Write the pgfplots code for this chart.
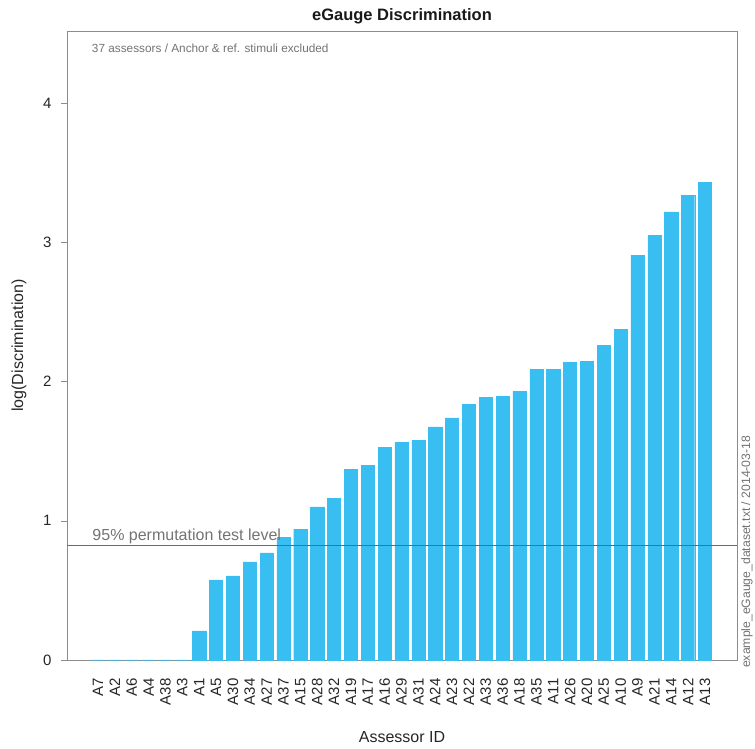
\documentclass[border=0pt]{standalone}
\usepackage{pgfplots}
\pgfplotsset{compat=1.18}
\usepackage{fontspec}
\setmainfont{Liberation Sans}
\definecolor{barc}{RGB}{56,190,240}
\definecolor{framec}{RGB}{140,140,140}
\definecolor{txtgray}{RGB}{115,115,115}
\definecolor{linec}{RGB}{105,105,105}
\begin{document}
\begin{tikzpicture}
\useasboundingbox (-67pt,-89pt) rectangle (688pt,660pt);
\begin{axis}[
  name=ax,
  scale only axis, width=670pt, height=629pt,
  xmin=-1.84, xmax=37.9, ymin=0, ymax=4.52,
  clip=false,
  axis line style={framec, line width=0.6pt},
  xtick={0,...,36},
  xticklabels={A7,A2,A6,A4,A38,A3,A1,A5,A30,A34,A27,A37,A15,A28,A32,A19,A17,A16,A29,A31,A24,A23,A22,A33,A36,A18,A35,A11,A26,A20,A25,A10,A9,A21,A14,A12,A13},
  xtick style={draw=none},
  xticklabel style={rotate=90, anchor=east, font=\fontsize{15}{15}\selectfont, text=black!85},
  xticklabel shift=9pt,
  ytick={0,1,2,3,4},
  ytick pos=left,
  ytick style={framec, line width=0.6pt},
  tick align=outside, major tick length=6pt,
  yticklabel style={font=\fontsize{15}{15}\selectfont, text=black!85, xshift=-6pt},
  /pgf/number format/assume math mode=true,
  xlabel={Assessor ID}, ylabel={log(Discrimination)},
  xlabel style={at={(axis description cs:0.5,-0.1224)}, anchor=center, font=\fontsize{16}{16}\selectfont, text=black!85},
  ylabel style={at={(axis description cs:-0.0716,0.5)}, anchor=center, font=\fontsize{16}{16}\selectfont, text=black!85},
]
\addplot[ybar, bar width=13.2pt, fill=barc, draw=barc, line width=0.4pt] coordinates {
(0,0) (1,0) (2,0) (3,0) (4,0) (5,0)
(6,0.21) (7,0.575) (8,0.605) (9,0.705) (10,0.77) (11,0.88) (12,0.94)
(13,1.10) (14,1.16) (15,1.37) (16,1.40) (17,1.53) (18,1.565) (19,1.58)
(20,1.675) (21,1.74) (22,1.835) (23,1.885) (24,1.895) (25,1.93)
(26,2.09) (27,2.09) (28,2.137) (29,2.146) (30,2.26) (31,2.376)
(32,2.91) (33,3.05) (34,3.22) (35,3.34) (36,3.43)
};
\addplot[linec, line width=0.8pt, sharp plot] coordinates {(-1.84,0.82) (37.9,0.82)};
\node[anchor=south west, text=txtgray, font=\fontsize{16}{16}\selectfont, inner sep=1pt] at (axis cs:-0.4,0.825) {95\% permutation test level};
\node[anchor=west, text=txtgray, font=\fontsize{11.8}{11.8}\selectfont, inner sep=0pt] at (rel axis cs:0.037,0.973) {37 assessors / Anchor \& ref. stimuli excluded};
\end{axis}
\node[font=\fontsize{16.5}{16.5}\selectfont\bfseries, text=black!90] at ([yshift=15pt]ax.north) {eGauge Discrimination};
\node[rotate=90, anchor=west, text=txtgray, font=\fontsize{12.2}{12.2}\selectfont, inner sep=0pt] at ([xshift=10pt,yshift=-8pt]ax.south east) {example\_eGauge\_dataset.txt / 2014-03-18};
\end{tikzpicture}
\end{document}
